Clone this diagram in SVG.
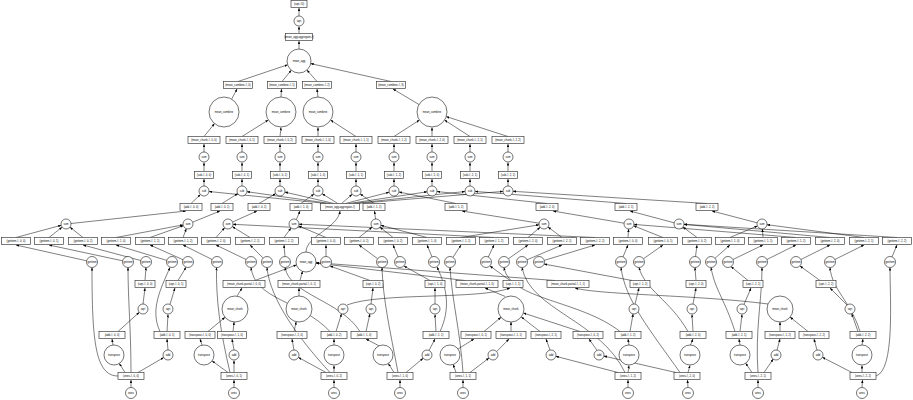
<svg xmlns="http://www.w3.org/2000/svg" width="913" height="400" viewBox="0 0 913 400">
<defs>
<marker id="a" viewBox="0 0 10 8" refX="10" refY="4" markerWidth="3" markerHeight="2.4" markerUnits="userSpaceOnUse" orient="auto"><path d="M0,0L10,4L0,8z" fill="#000"/></marker>
</defs>
<style>
.e path{fill:none;stroke:#000;stroke-width:0.5;marker-end:url(#a)}
.n rect{fill:#fff;stroke:#333;stroke-width:0.65}
.n circle{fill:#fff;stroke:#000;stroke-width:0.55}
.n text{font-family:'Liberation Sans',Arial,sans-serif;font-size:2.7px;text-anchor:middle;dominant-baseline:central;fill:#000}
</style>
<rect width="913" height="400" fill="#fff"/>
<g id="edges" class="e">
<path d="M299 16L299 8"/><path d="M299 33.5L299 26.5"/><path d="M299 49L299 41"/>
<path d="M238 81.5L287.6 64.8"/><path d="M282 81.5L291.3 70.2"/><path d="M317 81.5L306.9 70"/><path d="M391 81.5L310.7 63.6"/>
<path d="M231.7 99.1L237 89"/><path d="M281 97L281.5 89"/><path d="M318 97L317 89"/><path d="M419 104.5L393 89"/>
<path d="M204 136.5L214.5 123.6"/><path d="M242 136.5L268.3 120"/><path d="M280 136.5L281 127.5"/><path d="M318 136.5L318 127.5"/><path d="M356 136.5L330.6 120.1"/><path d="M394 136.5L419.4 120.1"/><path d="M432 136.5L432 127.5"/><path d="M470 136.5L444.6 120.1"/><path d="M508 136.5L446.3 116.6"/>
<path d="M204 152L204 144"/><path d="M242 152L242 144"/><path d="M280 152L280 144"/><path d="M318 152L318 144"/><path d="M356 152L356 144"/><path d="M394 152L394 144"/><path d="M432 152L432 144"/><path d="M470 152L470 144"/><path d="M508 152L508 144"/>
<path d="M204 171.5L204 162.5"/><path d="M242 171.5L242 162.5"/><path d="M280 171.5L280 162.5"/><path d="M318 171.5L318 162.5"/><path d="M356 171.5L356 162.5"/><path d="M394 171.5L394 162.5"/><path d="M432 171.5L432 162.5"/><path d="M470 171.5L470 162.5"/><path d="M508 171.5L508 162.5"/>
<path d="M204 186L204 179"/><path d="M242 186L242 179"/><path d="M280 186L280 179"/><path d="M318 186L318 179"/><path d="M356 186L356 179"/><path d="M394 186L394 179"/><path d="M432 186L432 179"/><path d="M470 186L470 179"/><path d="M508 186L508 179"/>
<path d="M191 203.5L200.4 194.5"/><path d="M222 203.5L237.8 193.6"/><path d="M259 203.5L275.7 193.6"/><path d="M301 203.5L314 194"/><path d="M374 203.5L360.1 193.9"/><path d="M456 203.5L398.9 192"/><path d="M547 203.5L437 191.5"/><path d="M626 203.5L475 191.4"/><path d="M707 203.5L513 191.3"/>
<path d="M326.4 203.5L209 191.5"/><path d="M330.2 203.5L246.9 191.7"/><path d="M334 203.5L284.9 192.1"/><path d="M337.8 203.5L322.2 193.7"/><path d="M341.6 203.5L352.2 194.3"/><path d="M345.4 203.5L389.2 192.2"/><path d="M349.2 203.5L427.1 191.8"/><path d="M353 203.5L465 191.5"/><path d="M356.8 203.5L503 191.4"/>
<path d="M71 223.5L186 211"/><path d="M192.6 222.2L220 211"/><path d="M232.6 222L257 211"/><path d="M296.3 219.6L300 211"/><path d="M375.5 219L374.5 211"/><path d="M539.1 223.2L462 211"/><path d="M624.1 223.2L553 211"/><path d="M674.2 222.8L630 211"/><path d="M757.1 222.8L712 211"/>
<path d="M306 252C306 236 338 228 340 211"/>
<path d="M16 237.5L61.2 225.3"/><path d="M49 237.5L62.1 227.1"/><path d="M83 237.5L69.9 227.1"/><path d="M116 237.5L183.1 224.9"/><path d="M150 237.5L183.3 225.7"/><path d="M183 237.5L186.3 228.7"/><path d="M216 237.5L224.7 227.7"/><path d="M250 237.5L232.3 226.6"/><path d="M494 237.5L233 224.3"/><path d="M284 237.5L291 228"/><path d="M326 237.5L298.6 225.9"/><path d="M595 237.5L299 224.2"/><path d="M359 237.5L372.1 227.1"/><path d="M393 237.5L379.9 227.1"/><path d="M427 237.5L380.8 225.3"/><path d="M461 237.5L539.1 224.8"/><path d="M528 237.5L540.2 227.2"/><path d="M562 237.5L548 227"/><path d="M628 237.5L628.6 229"/><path d="M663 237.5L633.6 225.8"/><path d="M796 237.5L634 224.4"/><path d="M697 237.5L683 227"/><path d="M830 237.5L684 224.4"/><path d="M897 237.5L684 224.3"/><path d="M730 237.5L757.4 225.9"/><path d="M763 237.5L762.4 229"/><path d="M864 237.5L767 224.7"/>
<path d="M86.6 260.8L16 245"/><path d="M122.6 260.8L49 245"/><path d="M140.7 260.5L83 245"/><path d="M166.8 260.4L116 245"/><path d="M183 259.7L150 245"/><path d="M212.1 259.5L183 245"/><path d="M246.1 259.5L216 245"/><path d="M263.2 258.1L250 245"/><path d="M285 256.5L284 245"/><path d="M326 256.5L326 245"/><path d="M377.6 258.7L359 245"/><path d="M398 256.9L393 245"/><path d="M432 256.9L427 245"/><path d="M452.9 257.4L461 245"/><path d="M488.3 257L494 245"/><path d="M508.4 258.8L528 245"/><path d="M527 259.8L562 245"/><path d="M544.2 260.4L595 245"/><path d="M623 256.9L628 245"/><path d="M643.4 258.8L663 245"/><path d="M695.5 256.5L697 245"/><path d="M715 258.3L730 245"/><path d="M732.9 259.5L763 245"/><path d="M766.9 259.5L796 245"/><path d="M800.9 259.5L830 245"/><path d="M834.9 259.5L864 245"/><path d="M892 256.9L897 245"/>
<path d="M255 280.5L296.4 264.9"/><path d="M300 280.5L302.5 271.3"/><path d="M465 280.5L315.9 263.1"/><path d="M555 280.5L316 262.7"/>
<path d="M118 376C95 376 92 340 92 267.5"/><path d="M131 372.5C131 330 128 300 128 267.5"/><path d="M145 280.5L146 267.5"/><path d="M160 331.5C150 310 160 290 170 267.5"/><path d="M178 280.5L186 267.3"/><path d="M230 372.5C220 330 216 300 216.5 267.5"/><path d="M330 331.5C300 300 255 300 251 267.5"/><path d="M330 372.5C300 340 270 300 267 267.5"/><path d="M360 331.5C340 300 290 295 285 267.5"/><path d="M370 280.5L330 266"/><path d="M398 372.5C390 330 383 300 382 267.5"/><path d="M430 280.5L404 266"/><path d="M440 331.5C450 310 448 290 437 267"/><path d="M463 372.5C460 330 452 300 450 267.5"/><path d="M510 280.5L490 266"/><path d="M620 331.5C580 300 510 300 504 267.5"/><path d="M625 372.5C600 320 530 310 522 267.5"/><path d="M632 280.5L544 264"/><path d="M680 372.5C650 330 625 300 621 267.5"/><path d="M688 331.5C670 300 645 290 639 267.5"/><path d="M696 280.5L695 267.5"/><path d="M735 331.5C725 300 715 290 711 267.5"/><path d="M748 280.5L731 266.5"/><path d="M758 372.5C755 330 762 300 762 267.5"/><path d="M820 280.5L800 266"/><path d="M860 331.5C850 300 832 290 830 267.5"/><path d="M876 376C895 370 890 300 890 267.5"/>
<path d="M143 304L145 288"/><path d="M170 304.3L175 288"/><path d="M347 305C380 292 480 300 510 288"/><path d="M371 304L373 288"/><path d="M435 304L435 288"/><path d="M635 304L639 288"/><path d="M693 304L696 288"/><path d="M744 304.4L751 288"/><path d="M847 305L830 288"/><path d="M237 296L242 288"/><path d="M299 296L299 288"/><path d="M505 296.4L485 288"/><path d="M768 304C700 295 600 295 575 288"/>
<path d="M118 331.5L139.3 312.3"/><path d="M167 331.5L168 314.5"/><path d="M336 331.5L341.5 313.8"/><path d="M366 331.5L369.9 313.9"/><path d="M436 331.5L435 314.5"/><path d="M630 331.5L633.1 313.9"/><path d="M693 331.5L692 314.5"/><path d="M740 331.5L742 314.5"/><path d="M858 331.5L851.7 313.7"/><path d="M208 331.5L225 317.3"/><path d="M233 331.5L234.1 322"/><path d="M294 331.5L296.2 321.7"/><path d="M484 331.5L501 317.3"/><path d="M511 331.5L511 322"/><path d="M540 331.5L521.3 317"/><path d="M580 331.5L523.4 313"/><path d="M780 331.5L780 322"/><path d="M808 331.5L790.1 317.1"/>
<path d="M113 345L112 339"/><path d="M168 350L167 339"/><path d="M202 345L200 339"/><path d="M234 350L232 339"/><path d="M294 350L292 339"/><path d="M334 345L334 339"/><path d="M379 345.8L366 339"/><path d="M429 350.4L435 339"/><path d="M458 349L474 339"/><path d="M496.7 351.6L509 339"/><path d="M550 350L546 339"/><path d="M597 350.4L589 339"/><path d="M629 345L628 339"/><path d="M690.5 345L693 339"/><path d="M740 345L739 339"/><path d="M777 350L780 339"/><path d="M817 350L814 339"/><path d="M862 345L863 339"/>
<path d="M125 372.5L119.3 363.5"/><path d="M138 372.5L163.7 357.5"/><path d="M234 372.5L234 360.5"/><path d="M228 372.5L212.1 360.9"/><path d="M334 372.5L334 365.5"/><path d="M326 372.5L298.4 357.4"/><path d="M394 372.5L388.3 363.5"/><path d="M406 372.5L423.2 358.2"/><path d="M456 372.5L453.2 364.5"/><path d="M470 372.5L489 358"/><path d="M628 372.5L629 365.5"/><path d="M618 372.5L555.8 356.3"/><path d="M688 372.5L690 365.5"/><path d="M676 372.5L603.9 356.1"/><path d="M752 372.5L745.7 363.3"/><path d="M764 372.5L773.2 359.1"/><path d="M862 372.5L862 365.5"/><path d="M852 372.5L822.4 357.3"/>
<path d="M131 387.5L131 380"/><path d="M234 387.5L234 380"/><path d="M334 387.5L334 380"/><path d="M400 387.5L400 380"/><path d="M463 387.5L463 380"/><path d="M628 387.5L628 380"/><path d="M688 387.5L687.5 380"/><path d="M758 387.5L758 380"/><path d="M862 387.5L862.5 380"/>
</g>
<g id="nodes" class="n">
<g id="r0"><rect x="291" y="0.5" width="16" height="7"/><text x="299" y="4">(sqrt-#0)</text></g>
<g id="r1"><circle cx="299" cy="21" r="5"/><text x="299" y="21">sqrt</text></g>
<g id="r2"><rect x="285.5" y="33.5" width="27" height="7"/><text x="299" y="37">(mean_agg-aggregate-#)</text></g>
<g id="r3"><circle cx="299" cy="61" r="12"/><text x="299" y="61">mean_agg</text></g>
<g id="r4a"><rect x="223.5" y="81.5" width="29" height="7"/><text x="238" y="85">(mean_combine-#, 0)</text></g>
<g id="r4b"><rect x="267.5" y="81.5" width="29" height="7"/><text x="282" y="85">(mean_combine-#, 1)</text></g>
<g id="r4c"><rect x="302.5" y="81.5" width="29" height="7"/><text x="317" y="85">(mean_combine-#, 2)</text></g>
<g id="r4d"><rect x="376.5" y="81.5" width="29" height="7"/><text x="391" y="85">(mean_combine-#, 3)</text></g>
<g id="r5a"><circle cx="224" cy="112" r="15"/><text x="224" y="112">mean_combine</text></g>
<g id="r5b"><circle cx="281" cy="112" r="15"/><text x="281" y="112">mean_combine</text></g>
<g id="r5c"><circle cx="318" cy="112" r="15"/><text x="318" y="112">mean_combine</text></g>
<g id="r5d"><circle cx="432" cy="112" r="15"/><text x="432" y="112">mean_combine</text></g>
<g id="r6a"><rect x="188" y="136.5" width="32" height="7"/><text x="204" y="140">(mean_chunk-#, 0, 0)</text></g>
<g id="r6b"><rect x="226" y="136.5" width="32" height="7"/><text x="242" y="140">(mean_chunk-#, 0, 1)</text></g>
<g id="r6c"><rect x="264" y="136.5" width="32" height="7"/><text x="280" y="140">(mean_chunk-#, 0, 2)</text></g>
<g id="r6d"><rect x="302" y="136.5" width="32" height="7"/><text x="318" y="140">(mean_chunk-#, 1, 0)</text></g>
<g id="r6e"><rect x="340" y="136.5" width="32" height="7"/><text x="356" y="140">(mean_chunk-#, 1, 1)</text></g>
<g id="r6f"><rect x="378" y="136.5" width="32" height="7"/><text x="394" y="140">(mean_chunk-#, 1, 2)</text></g>
<g id="r6g"><rect x="416" y="136.5" width="32" height="7"/><text x="432" y="140">(mean_chunk-#, 2, 0)</text></g>
<g id="r6h"><rect x="454" y="136.5" width="32" height="7"/><text x="470" y="140">(mean_chunk-#, 2, 1)</text></g>
<g id="r6i"><rect x="492" y="136.5" width="32" height="7"/><text x="508" y="140">(mean_chunk-#, 2, 2)</text></g>
<g id="r7a"><circle cx="204" cy="157" r="5"/><text x="204" y="157">sum</text></g>
<g id="r7b"><circle cx="242" cy="157" r="5"/><text x="242" y="157">sum</text></g>
<g id="r7c"><circle cx="280" cy="157" r="5"/><text x="280" y="157">sum</text></g>
<g id="r7d"><circle cx="318" cy="157" r="5"/><text x="318" y="157">sum</text></g>
<g id="r7e"><circle cx="356" cy="157" r="5"/><text x="356" y="157">sum</text></g>
<g id="r7f"><circle cx="394" cy="157" r="5"/><text x="394" y="157">sum</text></g>
<g id="r7g"><circle cx="432" cy="157" r="5"/><text x="432" y="157">sum</text></g>
<g id="r7h"><circle cx="470" cy="157" r="5"/><text x="470" y="157">sum</text></g>
<g id="r7i"><circle cx="508" cy="157" r="5"/><text x="508" y="157">sum</text></g>
<g id="r8a"><rect x="194.5" y="171.5" width="19" height="7"/><text x="204" y="175">(sub-#, 0, 0)</text></g>
<g id="r8b"><rect x="232.5" y="171.5" width="19" height="7"/><text x="242" y="175">(sub-#, 0, 1)</text></g>
<g id="r8c"><rect x="270.5" y="171.5" width="19" height="7"/><text x="280" y="175">(sub-#, 0, 2)</text></g>
<g id="r8d"><rect x="308.5" y="171.5" width="19" height="7"/><text x="318" y="175">(sub-#, 1, 0)</text></g>
<g id="r8e"><rect x="346.5" y="171.5" width="19" height="7"/><text x="356" y="175">(sub-#, 1, 1)</text></g>
<g id="r8f"><rect x="384.5" y="171.5" width="19" height="7"/><text x="394" y="175">(sub-#, 1, 2)</text></g>
<g id="r8g"><rect x="422.5" y="171.5" width="19" height="7"/><text x="432" y="175">(sub-#, 2, 0)</text></g>
<g id="r8h"><rect x="460.5" y="171.5" width="19" height="7"/><text x="470" y="175">(sub-#, 2, 1)</text></g>
<g id="r8i"><rect x="498.5" y="171.5" width="19" height="7"/><text x="508" y="175">(sub-#, 2, 2)</text></g>
<g id="r9a"><circle cx="204" cy="191" r="5"/><text x="204" y="191">sub</text></g>
<g id="r9b"><circle cx="242" cy="191" r="5"/><text x="242" y="191">sub</text></g>
<g id="r9c"><circle cx="280" cy="191" r="5"/><text x="280" y="191">sub</text></g>
<g id="r9d"><circle cx="318" cy="191" r="5"/><text x="318" y="191">sub</text></g>
<g id="r9e"><circle cx="356" cy="191" r="5"/><text x="356" y="191">sub</text></g>
<g id="r9f"><circle cx="394" cy="191" r="5"/><text x="394" y="191">sub</text></g>
<g id="r9g"><circle cx="432" cy="191" r="5"/><text x="432" y="191">sub</text></g>
<g id="r9h"><circle cx="470" cy="191" r="5"/><text x="470" y="191">sub</text></g>
<g id="r9i"><circle cx="508" cy="191" r="5"/><text x="508" y="191">sub</text></g>
<g id="r10a"><rect x="180" y="203.5" width="22" height="7"/><text x="191" y="207">(add-#, 0, 0)</text></g>
<g id="r10b"><rect x="211" y="203.5" width="22" height="7"/><text x="222" y="207">(add-#, 0, 1)</text></g>
<g id="r10c"><rect x="248" y="203.5" width="22" height="7"/><text x="259" y="207">(add-#, 0, 2)</text></g>
<g id="r10d"><rect x="290" y="203.5" width="22" height="7"/><text x="301" y="207">(add-#, 1, 0)</text></g>
<g id="r10m"><rect x="320.5" y="203.5" width="39" height="7"/><text x="340" y="207">(mean_agg-aggregate-#)</text></g>
<g id="r10e"><rect x="363" y="203.5" width="22" height="7"/><text x="374" y="207">(add-#, 1, 1)</text></g>
<g id="r10f"><rect x="445" y="203.5" width="22" height="7"/><text x="456" y="207">(add-#, 1, 2)</text></g>
<g id="r10g"><rect x="536" y="203.5" width="22" height="7"/><text x="547" y="207">(add-#, 2, 0)</text></g>
<g id="r10h"><rect x="615" y="203.5" width="22" height="7"/><text x="626" y="207">(add-#, 2, 1)</text></g>
<g id="r10i"><rect x="696" y="203.5" width="22" height="7"/><text x="707" y="207">(add-#, 2, 2)</text></g>
<g id="r11a"><circle cx="66" cy="224" r="5"/><text x="66" y="224">sum</text></g>
<g id="r11b"><circle cx="188" cy="224" r="5"/><text x="188" y="224">sum</text></g>
<g id="r11c"><circle cx="228" cy="224" r="5"/><text x="228" y="224">sum</text></g>
<g id="r11d"><circle cx="294" cy="224" r="5"/><text x="294" y="224">sum</text></g>
<g id="r11e"><circle cx="376" cy="224" r="5"/><text x="376" y="224">sum</text></g>
<g id="r11f"><circle cx="544" cy="224" r="5"/><text x="544" y="224">sum</text></g>
<g id="r11g"><circle cx="629" cy="224" r="5"/><text x="629" y="224">sum</text></g>
<g id="r11h"><circle cx="679" cy="224" r="5"/><text x="679" y="224">sum</text></g>
<g id="r11i"><circle cx="762" cy="224" r="5"/><text x="762" y="224">sum</text></g>
<g id="r12-1"><rect x="1.5" y="237.5" width="29" height="7"/><text x="16" y="241">(getitem-#, 0, 0)</text></g>
<g id="r12-2"><rect x="34.5" y="237.5" width="29" height="7"/><text x="49" y="241">(getitem-#, 0, 1)</text></g>
<g id="r12-3"><rect x="68.5" y="237.5" width="29" height="7"/><text x="83" y="241">(getitem-#, 0, 2)</text></g>
<g id="r12-4"><rect x="101.5" y="237.5" width="29" height="7"/><text x="116" y="241">(getitem-#, 1, 0)</text></g>
<g id="r12-5"><rect x="135.5" y="237.5" width="29" height="7"/><text x="150" y="241">(getitem-#, 1, 1)</text></g>
<g id="r12-6"><rect x="168.5" y="237.5" width="29" height="7"/><text x="183" y="241">(getitem-#, 1, 2)</text></g>
<g id="r12-7"><rect x="201.5" y="237.5" width="29" height="7"/><text x="216" y="241">(getitem-#, 2, 0)</text></g>
<g id="r12-8"><rect x="235.5" y="237.5" width="29" height="7"/><text x="250" y="241">(getitem-#, 2, 1)</text></g>
<g id="r12-9"><rect x="269.5" y="237.5" width="29" height="7"/><text x="284" y="241">(getitem-#, 2, 2)</text></g>
<g id="r12-10"><rect x="311.5" y="237.5" width="29" height="7"/><text x="326" y="241">(getitem-#, 0, 0)</text></g>
<g id="r12-11"><rect x="344.5" y="237.5" width="29" height="7"/><text x="359" y="241">(getitem-#, 0, 1)</text></g>
<g id="r12-12"><rect x="378.5" y="237.5" width="29" height="7"/><text x="393" y="241">(getitem-#, 0, 2)</text></g>
<g id="r12-13"><rect x="412.5" y="237.5" width="29" height="7"/><text x="427" y="241">(getitem-#, 1, 0)</text></g>
<g id="r12-14"><rect x="446.5" y="237.5" width="29" height="7"/><text x="461" y="241">(getitem-#, 1, 1)</text></g>
<g id="r12-15"><rect x="479.5" y="237.5" width="29" height="7"/><text x="494" y="241">(getitem-#, 1, 2)</text></g>
<g id="r12-16"><rect x="513.5" y="237.5" width="29" height="7"/><text x="528" y="241">(getitem-#, 2, 0)</text></g>
<g id="r12-17"><rect x="547.5" y="237.5" width="29" height="7"/><text x="562" y="241">(getitem-#, 2, 1)</text></g>
<g id="r12-18"><rect x="580.5" y="237.5" width="29" height="7"/><text x="595" y="241">(getitem-#, 2, 2)</text></g>
<g id="r12-19"><rect x="613.5" y="237.5" width="29" height="7"/><text x="628" y="241">(getitem-#, 0, 0)</text></g>
<g id="r12-20"><rect x="648.5" y="237.5" width="29" height="7"/><text x="663" y="241">(getitem-#, 0, 1)</text></g>
<g id="r12-21"><rect x="682.5" y="237.5" width="29" height="7"/><text x="697" y="241">(getitem-#, 0, 2)</text></g>
<g id="r12-22"><rect x="715.5" y="237.5" width="29" height="7"/><text x="730" y="241">(getitem-#, 1, 0)</text></g>
<g id="r12-23"><rect x="748.5" y="237.5" width="29" height="7"/><text x="763" y="241">(getitem-#, 1, 1)</text></g>
<g id="r12-24"><rect x="781.5" y="237.5" width="29" height="7"/><text x="796" y="241">(getitem-#, 1, 2)</text></g>
<g id="r12-25"><rect x="815.5" y="237.5" width="29" height="7"/><text x="830" y="241">(getitem-#, 2, 0)</text></g>
<g id="r12-26"><rect x="849.5" y="237.5" width="29" height="7"/><text x="864" y="241">(getitem-#, 2, 1)</text></g>
<g id="r12-27"><rect x="882.5" y="237.5" width="29" height="7"/><text x="897" y="241">(getitem-#, 2, 2)</text></g>
<g id="r13-1"><circle cx="92" cy="262" r="5.5"/><text x="92" y="262">getitem</text></g>
<g id="r13-2"><circle cx="128" cy="262" r="5.5"/><text x="128" y="262">getitem</text></g>
<g id="r13-3"><circle cx="146" cy="262" r="5.5"/><text x="146" y="262">getitem</text></g>
<g id="r13-4"><circle cx="172" cy="262" r="5.5"/><text x="172" y="262">getitem</text></g>
<g id="r13-5"><circle cx="188" cy="262" r="5.5"/><text x="188" y="262">getitem</text></g>
<g id="r13-6"><circle cx="217" cy="262" r="5.5"/><text x="217" y="262">getitem</text></g>
<g id="r13-7"><circle cx="251" cy="262" r="5.5"/><text x="251" y="262">getitem</text></g>
<g id="r13-8"><circle cx="267" cy="262" r="5.5"/><text x="267" y="262">getitem</text></g>
<g id="r13-9"><circle cx="285" cy="262" r="5.5"/><text x="285" y="262">getitem</text></g>
<g id="r13-m"><circle cx="306" cy="262" r="10"/><text x="306" y="262">mean_agg</text></g>
<g id="r13-10"><circle cx="326" cy="262" r="5.5"/><text x="326" y="262">getitem</text></g>
<g id="r13-11"><circle cx="382" cy="262" r="5.5"/><text x="382" y="262">getitem</text></g>
<g id="r13-12"><circle cx="400" cy="262" r="5.5"/><text x="400" y="262">getitem</text></g>
<g id="r13-13"><circle cx="434" cy="262" r="5.5"/><text x="434" y="262">getitem</text></g>
<g id="r13-14"><circle cx="450" cy="262" r="5.5"/><text x="450" y="262">getitem</text></g>
<g id="r13-15"><circle cx="486" cy="262" r="5.5"/><text x="486" y="262">getitem</text></g>
<g id="r13-16"><circle cx="504" cy="262" r="5.5"/><text x="504" y="262">getitem</text></g>
<g id="r13-17"><circle cx="522" cy="262" r="5.5"/><text x="522" y="262">getitem</text></g>
<g id="r13-18"><circle cx="539" cy="262" r="5.5"/><text x="539" y="262">getitem</text></g>
<g id="r13-19"><circle cx="621" cy="262" r="5.5"/><text x="621" y="262">getitem</text></g>
<g id="r13-20"><circle cx="639" cy="262" r="5.5"/><text x="639" y="262">getitem</text></g>
<g id="r13-21"><circle cx="695" cy="262" r="5.5"/><text x="695" y="262">getitem</text></g>
<g id="r13-22"><circle cx="711" cy="262" r="5.5"/><text x="711" y="262">getitem</text></g>
<g id="r13-23"><circle cx="728" cy="262" r="5.5"/><text x="728" y="262">getitem</text></g>
<g id="r13-24"><circle cx="762" cy="262" r="5.5"/><text x="762" y="262">getitem</text></g>
<g id="r13-25"><circle cx="796" cy="262" r="5.5"/><text x="796" y="262">getitem</text></g>
<g id="r13-26"><circle cx="830" cy="262" r="5.5"/><text x="830" y="262">getitem</text></g>
<g id="r13-27"><circle cx="890" cy="262" r="5.5"/><text x="890" y="262">getitem</text></g>
<g id="r14-1"><rect x="135" y="280.5" width="20" height="7"/><text x="145" y="284">(sqrt-#, 0, 0)</text></g>
<g id="r14-2"><rect x="166" y="280.5" width="20" height="7"/><text x="176" y="284">(sqrt-#, 0, 1)</text></g>
<g id="r14-w1"><rect x="223" y="280.5" width="42" height="7"/><text x="244" y="284">(mean_chunk-partial-#, 0, 0)</text></g>
<g id="r14-w2"><rect x="278" y="280.5" width="42" height="7"/><text x="299" y="284">(mean_chunk-partial-#, 0, 1)</text></g>
<g id="r14-3"><rect x="363" y="280.5" width="20" height="7"/><text x="373" y="284">(sqrt-#, 0, 2)</text></g>
<g id="r14-4"><rect x="425" y="280.5" width="20" height="7"/><text x="435" y="284">(sqrt-#, 1, 0)</text></g>
<g id="r14-w3"><rect x="456" y="280.5" width="42" height="7"/><text x="477" y="284">(mean_chunk-partial-#, 1, 0)</text></g>
<g id="r14-5"><rect x="503" y="280.5" width="20" height="7"/><text x="513" y="284">(sqrt-#, 1, 1)</text></g>
<g id="r14-w4"><rect x="547" y="280.5" width="42" height="7"/><text x="568" y="284">(mean_chunk-partial-#, 1, 1)</text></g>
<g id="r14-6"><rect x="630" y="280.5" width="20" height="7"/><text x="640" y="284">(sqrt-#, 1, 2)</text></g>
<g id="r14-7"><rect x="686" y="280.5" width="20" height="7"/><text x="696" y="284">(sqrt-#, 2, 0)</text></g>
<g id="r14-8"><rect x="743" y="280.5" width="20" height="7"/><text x="753" y="284">(sqrt-#, 2, 1)</text></g>
<g id="r14-9"><rect x="816" y="280.5" width="20" height="7"/><text x="826" y="284">(sqrt-#, 2, 2)</text></g>
<g id="r15-1"><circle cx="143" cy="309" r="5"/><text x="143" y="309">sqrt</text></g>
<g id="r15-2"><circle cx="168" cy="309" r="5"/><text x="168" y="309">sqrt</text></g>
<g id="r15-b1"><circle cx="235" cy="309" r="13"/><text x="235" y="309">mean_chunk</text></g>
<g id="r15-b2"><circle cx="299" cy="309" r="13"/><text x="299" y="309">mean_chunk</text></g>
<g id="r15-3"><circle cx="343" cy="309" r="5"/><text x="343" y="309">sqrt</text></g>
<g id="r15-4"><circle cx="371" cy="309" r="5"/><text x="371" y="309">sqrt</text></g>
<g id="r15-5"><circle cx="435" cy="309" r="5"/><text x="435" y="309">sqrt</text></g>
<g id="r15-b3"><circle cx="511" cy="309" r="13"/><text x="511" y="309">mean_chunk</text></g>
<g id="r15-6"><circle cx="634" cy="309" r="5"/><text x="634" y="309">sqrt</text></g>
<g id="r15-7"><circle cx="692" cy="309" r="5"/><text x="692" y="309">sqrt</text></g>
<g id="r15-8"><circle cx="742" cy="309" r="5"/><text x="742" y="309">sqrt</text></g>
<g id="r15-b4"><circle cx="780" cy="309" r="13"/><text x="780" y="309">mean_chunk</text></g>
<g id="r15-9"><circle cx="850" cy="309" r="5"/><text x="850" y="309">sqrt</text></g>
<g id="r16-1"><rect x="99" y="331.5" width="26" height="7"/><text x="112" y="335">(add-#, 0, 0)</text></g>
<g id="r16-2"><rect x="154" y="331.5" width="26" height="7"/><text x="167" y="335">(add-#, 0, 1)</text></g>
<g id="r16-3"><rect x="185" y="331.5" width="30" height="7"/><text x="200" y="335">(transpose-#, 0, 0)</text></g>
<g id="r16-4"><rect x="217.5" y="331.5" width="29" height="7"/><text x="232" y="335">(transpose-#, 1, 0)</text></g>
<g id="r16-5"><rect x="277" y="331.5" width="30" height="7"/><text x="292" y="335">(transpose-#, 2, 0)</text></g>
<g id="r16-6"><rect x="321" y="331.5" width="26" height="7"/><text x="334" y="335">(add-#, 0, 2)</text></g>
<g id="r16-7"><rect x="351" y="331.5" width="26" height="7"/><text x="364" y="335">(add-#, 1, 0)</text></g>
<g id="r16-8"><rect x="423" y="331.5" width="26" height="7"/><text x="436" y="335">(add-#, 1, 1)</text></g>
<g id="r16-9"><rect x="461" y="331.5" width="30" height="7"/><text x="476" y="335">(transpose-#, 0, 1)</text></g>
<g id="r16-10"><rect x="496" y="331.5" width="30" height="7"/><text x="511" y="335">(transpose-#, 1, 1)</text></g>
<g id="r16-11"><rect x="531" y="331.5" width="30" height="7"/><text x="546" y="335">(transpose-#, 2, 1)</text></g>
<g id="r16-12"><rect x="573" y="331.5" width="30" height="7"/><text x="588" y="335">(transpose-#, 0, 2)</text></g>
<g id="r16-13"><rect x="615" y="331.5" width="26" height="7"/><text x="628" y="335">(add-#, 1, 2)</text></g>
<g id="r16-14"><rect x="680" y="331.5" width="26" height="7"/><text x="693" y="335">(add-#, 2, 0)</text></g>
<g id="r16-15"><rect x="726" y="331.5" width="26" height="7"/><text x="739" y="335">(add-#, 2, 1)</text></g>
<g id="r16-16"><rect x="765" y="331.5" width="30" height="7"/><text x="780" y="335">(transpose-#, 1, 2)</text></g>
<g id="r16-17"><rect x="799" y="331.5" width="30" height="7"/><text x="814" y="335">(transpose-#, 2, 2)</text></g>
<g id="r16-18"><rect x="850" y="331.5" width="26" height="7"/><text x="863" y="335">(add-#, 2, 2)</text></g>
<g id="r17-t1"><circle cx="114" cy="355" r="10"/><text x="114" y="355">transpose</text></g>
<g id="r17-1"><circle cx="168" cy="355" r="5"/><text x="168" y="355">add</text></g>
<g id="r17-t2"><circle cx="204" cy="355" r="10"/><text x="204" y="355">transpose</text></g>
<g id="r17-2"><circle cx="234" cy="355" r="5"/><text x="234" y="355">add</text></g>
<g id="r17-3"><circle cx="294" cy="355" r="5"/><text x="294" y="355">add</text></g>
<g id="r17-t3"><circle cx="334" cy="355" r="10"/><text x="334" y="355">transpose</text></g>
<g id="r17-t4"><circle cx="383" cy="355" r="10"/><text x="383" y="355">transpose</text></g>
<g id="r17-4"><circle cx="427" cy="355" r="5"/><text x="427" y="355">add</text></g>
<g id="r17-t5"><circle cx="450" cy="355" r="10"/><text x="450" y="355">transpose</text></g>
<g id="r17-5"><circle cx="493" cy="355" r="5"/><text x="493" y="355">add</text></g>
<g id="r17-6"><circle cx="551" cy="355" r="5"/><text x="551" y="355">add</text></g>
<g id="r17-7"><circle cx="599" cy="355" r="5"/><text x="599" y="355">add</text></g>
<g id="r17-t6"><circle cx="629" cy="355" r="10"/><text x="629" y="355">transpose</text></g>
<g id="r17-t7"><circle cx="690" cy="355" r="10"/><text x="690" y="355">transpose</text></g>
<g id="r17-t8"><circle cx="740" cy="355" r="10"/><text x="740" y="355">transpose</text></g>
<g id="r17-8"><circle cx="776" cy="355" r="5"/><text x="776" y="355">add</text></g>
<g id="r17-9"><circle cx="818" cy="355" r="5"/><text x="818" y="355">add</text></g>
<g id="r17-t9"><circle cx="862" cy="355" r="10"/><text x="862" y="355">transpose</text></g>
<g id="r18-1"><rect x="118" y="372.5" width="26" height="7"/><text x="131" y="376">(ones-#, 0, 0)</text></g>
<g id="r18-2"><rect x="221" y="372.5" width="26" height="7"/><text x="234" y="376">(ones-#, 0, 1)</text></g>
<g id="r18-3"><rect x="321" y="372.5" width="26" height="7"/><text x="334" y="376">(ones-#, 0, 2)</text></g>
<g id="r18-4"><rect x="387" y="372.5" width="26" height="7"/><text x="400" y="376">(ones-#, 1, 0)</text></g>
<g id="r18-5"><rect x="450" y="372.5" width="26" height="7"/><text x="463" y="376">(ones-#, 1, 1)</text></g>
<g id="r18-6"><rect x="615" y="372.5" width="26" height="7"/><text x="628" y="376">(ones-#, 1, 2)</text></g>
<g id="r18-7"><rect x="674" y="372.5" width="26" height="7"/><text x="687" y="376">(ones-#, 2, 0)</text></g>
<g id="r18-8"><rect x="745" y="372.5" width="26" height="7"/><text x="758" y="376">(ones-#, 2, 1)</text></g>
<g id="r18-9"><rect x="850" y="372.5" width="26" height="7"/><text x="863" y="376">(ones-#, 2, 2)</text></g>
<g id="r19-1"><circle cx="131" cy="393" r="5.5"/><text x="131" y="393">ones</text></g>
<g id="r19-2"><circle cx="234" cy="393" r="5.5"/><text x="234" y="393">ones</text></g>
<g id="r19-3"><circle cx="334" cy="393" r="5.5"/><text x="334" y="393">ones</text></g>
<g id="r19-4"><circle cx="400" cy="393" r="5.5"/><text x="400" y="393">ones</text></g>
<g id="r19-5"><circle cx="463" cy="393" r="5.5"/><text x="463" y="393">ones</text></g>
<g id="r19-6"><circle cx="628" cy="393" r="5.5"/><text x="628" y="393">ones</text></g>
<g id="r19-7"><circle cx="688" cy="393" r="5.5"/><text x="688" y="393">ones</text></g>
<g id="r19-8"><circle cx="758" cy="393" r="5.5"/><text x="758" y="393">ones</text></g>
<g id="r19-9"><circle cx="862" cy="393" r="5.5"/><text x="862" y="393">ones</text></g>
</g>
</svg>
